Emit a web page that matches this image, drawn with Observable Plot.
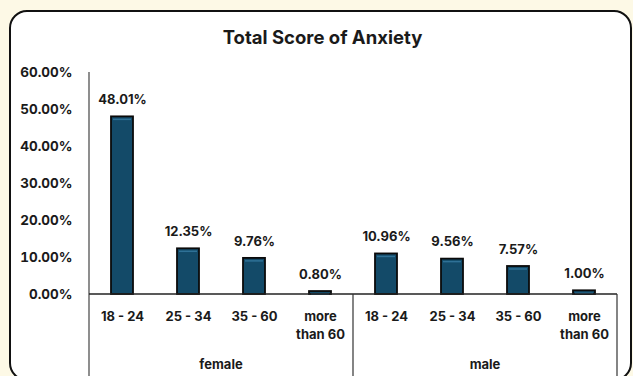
<!DOCTYPE html>
<html>
<head>
<meta charset="utf-8">
<script src="https://cdn.jsdelivr.net/npm/d3@7"></script>
<script src="https://cdn.jsdelivr.net/npm/@observablehq/plot@0.6"></script>
<style>
  html, body { margin: 0; padding: 0; background: #fdf9e6; overflow: hidden; }
  #wrap { position: relative; width: 633px; height: 376px; overflow: hidden; font-family: Inter, "Open Sans", sans-serif; }
  #box { position: absolute; left: 9px; top: 10px; width: 619px; height: 367px; border: 2px solid #111; border-radius: 18px; background: #fff; }
  #title { position: absolute; left: 0; width: 645px; top: 26px; text-align: center; font-weight: 700; font-size: 18.5px; color: #1a1a1a; }
  #chart { position: absolute; left: 0; top: 0; }
  #chart svg { background: transparent; overflow: visible; }
</style>
</head>
<body>
<div id="wrap">
  <div id="box"></div>
  <div id="title">Total Score of Anxiety</div>
  <div id="chart"></div>
</div>
<script>
const genders = ["female", "male"];
const ages = ["18 - 24", "25 - 34", "35 - 60", "more than 60"];
const femaleValues = [48.01, 12.35, 9.76, 0.80];
const maleValues = [10.96, 9.56, 7.57, 1.00];
const yTicks = [0, 10, 20, 30, 40, 50, 60];

const seriesValues = {female: femaleValues, male: maleValues};
const data = genders.flatMap(g => ages.map((a, i) => ({gender: g, age: a, key: g + "|" + a, value: seriesValues[g][i]})));
const keys = data.map(d => d.key);

const ink = "#1a1a1a";
const plot = Plot.plot({
  width: 633,
  height: 376,
  marginLeft: 87,
  marginRight: 15,
  marginTop: 72,
  marginBottom: 82,
  style: {fontFamily: "Inter, 'Open Sans', sans-serif", fontSize: "13px", fontWeight: 700, color: ink, background: "transparent"},
  x: {domain: keys, padding: 0, label: null},
  y: {domain: [0, 60], label: null},
  marks: [
    Plot.barY(data, {x: "key", y: "value", fill: "#134a68", stroke: "#0a0a0a", strokeWidth: 1.8, insetLeft: 22, insetRight: 22}),
    Plot.tickY(data, {x: "key", y: "value", stroke: "#2f7196", strokeWidth: 1.5, inset: 24, dy: 2.5}),
    Plot.text(data, {x: "key", y: "value", text: d => d.value.toFixed(2) + "%", dy: -17, fill: ink, fontSize: 13}),
    Plot.axisY({ticks: yTicks, tickSize: 0, tickPadding: 15, tickFormat: d => d.toFixed(2) + "%", fontSize: 13.5, fill: ink}),
    Plot.axisX({tickSize: 0, tickPadding: 13, lineHeight: 1.42, fontSize: 13, fill: ink,
      tickFormat: k => k.split("|")[1].replace("more than 60", "more\nthan 60")})
  ]
});
document.getElementById("chart").appendChild(plot);

// Category frame lines and group labels positioned from the plot's own scales
const sx = plot.scale("x"), sy = plot.scale("y");
const bw = sx.bandwidth;
const y0 = sy.apply(0), yTop = sy.apply(60), yBottom = 376;
const svg = d3.select(plot);
const g = svg.append("g");
const xLeft = sx.apply(keys[0]);
const xRight = sx.apply(keys[keys.length - 1]) + bw;
g.append("line").attr("x1", xLeft).attr("x2", xLeft).attr("y1", yTop).attr("y2", yBottom).attr("stroke", "#444").attr("stroke-width", 1.2);
g.append("line").attr("x1", xLeft).attr("x2", xRight).attr("y1", y0).attr("y2", y0).attr("stroke", "#222").attr("stroke-width", 1.5);
genders.forEach((gd, i) => {
  const first = sx.apply(gd + "|" + ages[0]);
  const last = sx.apply(gd + "|" + ages[ages.length - 1]) + bw;
  if (i > 0) g.append("line").attr("x1", first).attr("x2", first).attr("y1", y0).attr("y2", yBottom).attr("stroke", "#333").attr("stroke-width", 1.2);
  if (i === genders.length - 1) g.append("line").attr("x1", last).attr("x2", last).attr("y1", y0).attr("y2", yBottom).attr("stroke", "#333").attr("stroke-width", 1.2);
  g.append("text").attr("x", (first + last) / 2).attr("y", 364).attr("dy", "0.35em")
    .attr("text-anchor", "middle").attr("fill", ink).attr("font-size", 13).attr("font-weight", 700).text(gd);
});
</script>
</body>
</html>
